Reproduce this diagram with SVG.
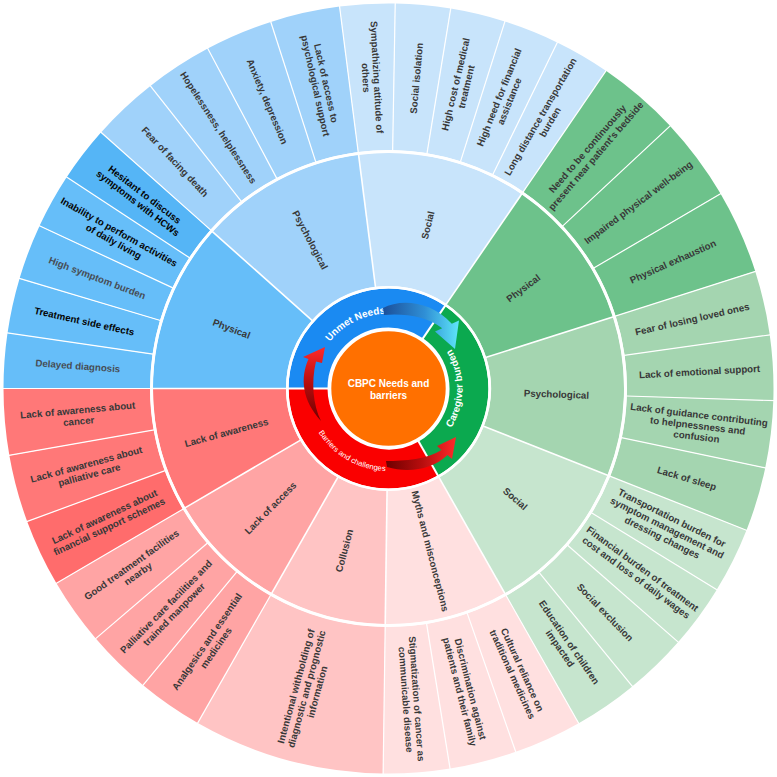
<svg xmlns="http://www.w3.org/2000/svg" width="777" height="777" viewBox="0 0 777 777">
<defs>
<style>
.lf{fill:none;stroke-width:146.5}
.md{fill:none;stroke-width:133}
.cr{fill:none;stroke-width:39}
.c1{stroke:#66BEF9}.c1d{stroke:#55B5F6}.c2{stroke:#A0D2FA}.c3{stroke:#C8E4FB}
.c4{stroke:#6DC28B}.c5{stroke:#A4D5B0}.c6{stroke:#C6E5CE}
.c7{stroke:#FFE0E0}.c8{stroke:#FFC4C4}.c9{stroke:#FFA4A4}.c10{stroke:#FF7878}.c10d{stroke:#FF6C6C}
text{font-family:"Liberation Sans",Arial,sans-serif;font-weight:bold;font-size:9.7px;fill:#383838;text-anchor:middle}
.dk{fill:#050505}
.gy{fill:#474d55}
.rt{fill:#fff;font-size:10px}
.sm{fill:#fff;font-size:7.6px;font-weight:normal}
.ct{fill:#fff;font-size:10px}
</style>
<linearGradient id="gBlue" x1="0" y1="0" x2="1" y2="0"><stop offset="0" stop-color="#1b4f9a"/><stop offset="0.55" stop-color="#2f8fd6"/><stop offset="1" stop-color="#5fe6f8"/></linearGradient>
<linearGradient id="gRedV" x1="0" y1="1" x2="0" y2="0"><stop offset="0" stop-color="#6e0000"/><stop offset="0.5" stop-color="#b50d0d"/><stop offset="1" stop-color="#ff2a2a"/></linearGradient>
<linearGradient id="gRedH" x1="0" y1="0" x2="1" y2="0"><stop offset="0" stop-color="#6e0000"/><stop offset="0.5" stop-color="#b50d0d"/><stop offset="1" stop-color="#ff2a2a"/></linearGradient>
<path id="pUnmet" d="M-71.33,-23.18 A75,75 0 0 1 23.18,-71.33"/>
<path id="pCare" d="M52.33,52.33 A74,74 0 0 0 52.33,-52.33"/>
<path id="pBarr" d="M-79.69,21.35 A82.5,82.5 0 0 0 21.35,79.69"/>
</defs>
<rect width="777" height="777" fill="#fff"/>
<g transform="translate(388.5,388.5)">
<g id="leaves">
<g id="n-delayed-diagnosis"><circle r="311.75" class="lf c1" pathLength="360" stroke-dasharray="8.3 360" transform="rotate(180)"/><text class="gy" transform="rotate(274.15) translate(0,-311.5) rotate(90)" y="3.4">Delayed diagnosis</text></g>
<g id="n-treatment-side-effects"><circle r="311.75" class="lf c1" pathLength="360" stroke-dasharray="8.3 360" transform="rotate(188.3)"/><text class="dk" transform="rotate(282.45) translate(0,-311.5) rotate(90)" y="3.4">Treatment side effects</text></g>
<g id="n-high-symptom-burden"><circle r="311.75" class="lf c1" pathLength="360" stroke-dasharray="8.4 360" transform="rotate(196.6)"/><text class="gy" transform="rotate(290.8) translate(0,-311.5) rotate(90)" y="3.4">High symptom burden</text></g>
<g id="n-inability"><circle r="311.75" class="lf c1" pathLength="360" stroke-dasharray="8.3 360" transform="rotate(205)"/><text class="dk" transform="rotate(299.15) translate(0,-311.5) rotate(90)"><tspan x="0" y="-2.1">Inability to perform activities</tspan><tspan x="0" y="8.9">of daily living</tspan></text></g>
<g id="n-hesitant"><circle r="311.75" class="lf c1d" pathLength="360" stroke-dasharray="8.4 360" transform="rotate(213.3)"/><text class="dk" transform="rotate(307.5) translate(0,-311.5) rotate(90)"><tspan x="0" y="-2.1">Hesitant to discuss</tspan><tspan x="0" y="8.9">symptoms with HCWs</tspan></text></g>
<g id="n-fear-death"><circle r="311.75" class="lf c2" pathLength="360" stroke-dasharray="10.1 360" transform="rotate(221.7)"/><text transform="rotate(316.75) translate(0,-311.5) rotate(90)" y="3.4">Fear of facing death</text></g>
<g id="n-hopelessness"><circle r="311.75" class="lf c2" pathLength="360" stroke-dasharray="10.2 360" transform="rotate(231.8)"/><text transform="rotate(326.9) translate(0,-311.5) rotate(90)" y="3.4">Hopelessness, helplessness</text></g>
<g id="n-anxiety"><circle r="311.75" class="lf c2" pathLength="360" stroke-dasharray="10.2 360" transform="rotate(242)"/><text transform="rotate(337.1) translate(0,-311.5) rotate(90)" y="3.4">Anxiety, depression</text></g>
<g id="n-lack-psych-support"><circle r="311.75" class="lf c2" pathLength="360" stroke-dasharray="10.5 360" transform="rotate(252.2)"/><text transform="rotate(347.45) translate(0,-311.5) rotate(90)"><tspan x="0" y="-2.1">Lack of access to</tspan><tspan x="0" y="8.9">psychological support</tspan></text></g>
<g id="n-sympathizing"><circle r="311.75" class="lf c3" pathLength="360" stroke-dasharray="8.3 360" transform="rotate(262.7)"/><text transform="rotate(356.85) translate(0,-311.5) rotate(90)"><tspan x="0" y="-2.1">Sympathizing attitude of</tspan><tspan x="0" y="8.9">others</tspan></text></g>
<g id="n-social-isolation"><circle r="311.75" class="lf c3" pathLength="360" stroke-dasharray="8.3 360" transform="rotate(-89)"/><text transform="rotate(5.15) translate(0,-311.5) rotate(-90)" y="3.4">Social isolation</text></g>
<g id="n-high-cost"><circle r="311.75" class="lf c3" pathLength="360" stroke-dasharray="8.3 360" transform="rotate(-80.7)"/><text transform="rotate(13.45) translate(0,-311.5) rotate(-90)"><tspan x="0" y="-2.1">High cost of medical</tspan><tspan x="0" y="8.9">treatment</tspan></text></g>
<g id="n-high-need"><circle r="311.75" class="lf c3" pathLength="360" stroke-dasharray="8.4 360" transform="rotate(-72.4)"/><text transform="rotate(21.8) translate(0,-311.5) rotate(-90)"><tspan x="0" y="-2.1">High need for financial</tspan><tspan x="0" y="8.9">assistance</tspan></text></g>
<g id="n-long-distance"><circle r="311.75" class="lf c3" pathLength="360" stroke-dasharray="8.4 360" transform="rotate(-64)"/><text transform="rotate(30.2) translate(0,-311.5) rotate(-90)"><tspan x="0" y="-2.1">Long distance transportation</tspan><tspan x="0" y="8.9">burden</tspan></text></g>
<g id="n-need-present"><circle r="311.75" class="lf c4" pathLength="360" stroke-dasharray="12.6 360" transform="rotate(-55.6)"/><text transform="rotate(40.7) translate(0,-311.5) rotate(-90)"><tspan x="0" y="-2.1">Need to be continuously</tspan><tspan x="0" y="8.9">present near patient's bedside</tspan></text></g>
<g id="n-impaired"><circle r="311.75" class="lf c4" pathLength="360" stroke-dasharray="12.6 360" transform="rotate(-43)"/><text transform="rotate(53.3) translate(0,-311.5) rotate(-90)" y="3.4">Impaired physical well-being</text></g>
<g id="n-exhaustion"><circle r="311.75" class="lf c4" pathLength="360" stroke-dasharray="12.7 360" transform="rotate(-30.4)"/><text transform="rotate(65.95) translate(0,-311.5) rotate(-90)" y="3.4">Physical exhaustion</text></g>
<g id="n-fear-losing"><circle r="311.75" class="lf c5" pathLength="360" stroke-dasharray="9.7 360" transform="rotate(-17.7)"/><text transform="rotate(77.15) translate(0,-311.5) rotate(-90)" y="3.4">Fear of losing loved ones</text></g>
<g id="n-emotional-support"><circle r="311.75" class="lf c5" pathLength="360" stroke-dasharray="9.8 360" transform="rotate(-8)"/><text transform="rotate(86.9) translate(0,-311.5) rotate(-90)" y="3.4">Lack of emotional support</text></g>
<g id="n-guidance"><circle r="311.75" class="lf c5" pathLength="360" stroke-dasharray="10.1 360" transform="rotate(1.8)"/><text transform="rotate(96.85) translate(0,-311.5) rotate(-90)"><tspan x="0" y="-7.6">Lack of guidance contributing</tspan><tspan x="0" y="3.4">to helpnessness and</tspan><tspan x="0" y="14.4">confusion</tspan></text></g>
<g id="n-sleep"><circle r="311.75" class="lf c5" pathLength="360" stroke-dasharray="9.7 360" transform="rotate(11.9)"/><text transform="rotate(106.75) translate(0,-311.5) rotate(-90)" y="3.4">Lack of sleep</text></g>
<g id="n-transportation"><circle r="311.75" class="lf c6" pathLength="360" stroke-dasharray="9.9 360" transform="rotate(21.6)"/><text transform="rotate(116.55) translate(0,-311.5) rotate(-90)"><tspan x="0" y="-7.6">Transportation burden for</tspan><tspan x="0" y="3.4">symptom management and</tspan><tspan x="0" y="14.4">dressing changes</tspan></text></g>
<g id="n-financial-burden"><circle r="311.75" class="lf c6" pathLength="360" stroke-dasharray="9.7 360" transform="rotate(31.5)"/><text transform="rotate(126.35) translate(0,-311.5) rotate(-90)"><tspan x="0" y="-2.1">Financial burden of treatment</tspan><tspan x="0" y="8.9">cost and loss of daily wages</tspan></text></g>
<g id="n-social-exclusion"><circle r="311.75" class="lf c6" pathLength="360" stroke-dasharray="9.5 360" transform="rotate(41.2)"/><text transform="rotate(135.95) translate(0,-311.5) rotate(-90)" y="3.4">Social exclusion</text></g>
<g id="n-education"><circle r="311.75" class="lf c6" pathLength="360" stroke-dasharray="9.7 360" transform="rotate(50.7)"/><text transform="rotate(145.55) translate(0,-311.5) rotate(-90)"><tspan x="0" y="-2.1">Education of children</tspan><tspan x="0" y="8.9">impacted</tspan></text></g>
<g id="n-cultural"><circle r="311.75" class="lf c7" pathLength="360" stroke-dasharray="10.3 360" transform="rotate(60.4)"/><text transform="rotate(155.55) translate(0,-311.5) rotate(-90)"><tspan x="0" y="-2.1">Cultural reliance on</tspan><tspan x="0" y="8.9">traditional medicines</tspan></text></g>
<g id="n-discrimination"><circle r="311.75" class="lf c7" pathLength="360" stroke-dasharray="10.1 360" transform="rotate(70.7)"/><text transform="rotate(165.75) translate(0,-311.5) rotate(-90)"><tspan x="0" y="-2.1">Discrimination against</tspan><tspan x="0" y="8.9">patients and their family</tspan></text></g>
<g id="n-stigmatization"><circle r="311.75" class="lf c7" pathLength="360" stroke-dasharray="10 360" transform="rotate(80.8)"/><text transform="rotate(175.8) translate(0,-311.5) rotate(-90)"><tspan x="0" y="-2.1">Stigmatization of cancer as</tspan><tspan x="0" y="8.9">communicable disease</tspan></text></g>
<g id="n-withholding"><circle r="311.75" class="lf c8" pathLength="360" stroke-dasharray="28.9 360" transform="rotate(90.8)"/><text transform="rotate(195.25) translate(0,-311.5) rotate(90)"><tspan x="0" y="-7.6">Intentional withholding of</tspan><tspan x="0" y="3.4">diagnostic and prognostic</tspan><tspan x="0" y="14.4">information</tspan></text></g>
<g id="n-analgesics"><circle r="311.75" class="lf c9" pathLength="360" stroke-dasharray="9.9 360" transform="rotate(119.7)"/><text transform="rotate(214.65) translate(0,-311.5) rotate(90)"><tspan x="0" y="-2.1">Analgesics and essential</tspan><tspan x="0" y="8.9">medicines</tspan></text></g>
<g id="n-palliative-facilities"><circle r="311.75" class="lf c9" pathLength="360" stroke-dasharray="9.9 360" transform="rotate(129.6)"/><text transform="rotate(224.55) translate(0,-311.5) rotate(90)"><tspan x="0" y="-2.1">Palliative care facilities and</tspan><tspan x="0" y="8.9">trained manpower</tspan></text></g>
<g id="n-good-treatment"><circle r="311.75" class="lf c9" pathLength="360" stroke-dasharray="10.1 360" transform="rotate(139.5)"/><text transform="rotate(234.55) translate(0,-311.5) rotate(90)"><tspan x="0" y="-2.1">Good treatment facilities</tspan><tspan x="0" y="8.9">nearby</tspan></text></g>
<g id="n-awareness-financial"><circle r="311.75" class="lf c10d" pathLength="360" stroke-dasharray="10.2 360" transform="rotate(149.6)"/><text transform="rotate(244.7) translate(0,-311.5) rotate(90)"><tspan x="0" y="-2.1">Lack of awareness about</tspan><tspan x="0" y="8.9">financial support schemes</tspan></text></g>
<g id="n-awareness-palliative"><circle r="311.75" class="lf c10" pathLength="360" stroke-dasharray="10.2 360" transform="rotate(159.8)"/><text transform="rotate(254.9) translate(0,-311.5) rotate(90)"><tspan x="0" y="-2.1">Lack of awareness about</tspan><tspan x="0" y="8.9">palliative care</tspan></text></g>
<g id="n-awareness-cancer"><circle r="311.75" class="lf c10" pathLength="360" stroke-dasharray="10 360" transform="rotate(170)"/><text transform="rotate(265) translate(0,-311.5) rotate(90)"><tspan x="0" y="-2.1">Lack of awareness about</tspan><tspan x="0" y="8.9">cancer</tspan></text></g>
</g>
<g id="categories">
<g id="n-unmet-physical"><circle r="169" class="md c1" pathLength="360" stroke-dasharray="41.7 360" transform="rotate(180)"/><text transform="rotate(290.85) translate(0,-168) rotate(90)" y="3.4">Physical</text></g>
<g id="n-unmet-psychological"><circle r="169" class="md c2" pathLength="360" stroke-dasharray="41 360" transform="rotate(221.7)"/><text transform="rotate(332.2) translate(0,-168) rotate(90)" y="3.4">Psychological</text></g>
<g id="n-unmet-social"><circle r="169" class="md c3" pathLength="360" stroke-dasharray="41.7 360" transform="rotate(262.7)"/><text transform="rotate(13.55) translate(0,-168) rotate(-90)" y="3.4">Social</text></g>
<g id="n-care-physical"><circle r="169" class="md c4" pathLength="360" stroke-dasharray="37.9 360" transform="rotate(-55.6)"/><text transform="rotate(53.35) translate(0,-168) rotate(-90)" y="3.4">Physical</text></g>
<g id="n-care-psychological"><circle r="169" class="md c5" pathLength="360" stroke-dasharray="39.3 360" transform="rotate(-17.7)"/><text transform="rotate(91.95) translate(0,-168) rotate(-90)" y="3.4">Psychological</text></g>
<g id="n-care-social"><circle r="169" class="md c6" pathLength="360" stroke-dasharray="38.8 360" transform="rotate(21.6)"/><text transform="rotate(131) translate(0,-168) rotate(-90)" y="3.4">Social</text></g>
<g id="n-myths"><circle r="169" class="md c7" pathLength="360" stroke-dasharray="30.4 360" transform="rotate(60.4)"/><text transform="rotate(165.6) translate(0,-168) rotate(-90)" y="3.4">Myths and misconceptions</text></g>
<g id="n-collusion"><circle r="169" class="md c8" pathLength="360" stroke-dasharray="28.9 360" transform="rotate(90.8)"/><text transform="rotate(195.25) translate(0,-168) rotate(90)" y="3.4">Collusion</text></g>
<g id="n-lack-access"><circle r="169" class="md c9" pathLength="360" stroke-dasharray="29.9 360" transform="rotate(119.7)"/><text transform="rotate(224.65) translate(0,-168) rotate(90)" y="3.4">Lack of access</text></g>
<g id="n-lack-awareness"><circle r="169" class="md c10" pathLength="360" stroke-dasharray="30.4 360" transform="rotate(149.6)"/><text transform="rotate(254.8) translate(0,-168) rotate(90)" y="3.4">Lack of awareness</text></g>
</g>
<g id="core">
<g id="n-unmet-needs"><circle r="80.5" class="cr" stroke="#1A8AF2" pathLength="360" stroke-dasharray="124.4 360" transform="rotate(180)"/><text class="rt"><textPath href="#pUnmet" startOffset="50%">Unmet Needs</textPath></text></g>
<g id="n-caregiver-burden"><circle r="80.5" class="cr" stroke="#0BA94F" pathLength="360" stroke-dasharray="116 360" transform="rotate(-55.6)"/><text class="rt"><textPath href="#pCare" startOffset="50%">Caregiver burden</textPath></text></g>
<g id="n-barriers"><circle r="80.5" class="cr" stroke="#FA0000" pathLength="360" stroke-dasharray="119.6 360" transform="rotate(60.4)"/><text class="sm"><textPath href="#pBarr" startOffset="50%">Barriers and challenges</textPath></text></g>
</g>
<g id="borders" stroke="#fff" fill="none">
<g stroke-width="1.2">
<line y1="-238" y2="-387" transform="rotate(270)"/><line y1="-238" y2="-387" transform="rotate(278.3)"/><line y1="-238" y2="-387" transform="rotate(286.6)"/><line y1="-238" y2="-387" transform="rotate(295)"/><line y1="-238" y2="-387" transform="rotate(303.3)"/><line y1="-238" y2="-387" transform="rotate(311.7)"/><line y1="-238" y2="-387" transform="rotate(321.8)"/><line y1="-238" y2="-387" transform="rotate(332)"/><line y1="-238" y2="-387" transform="rotate(342.2)"/><line y1="-238" y2="-387" transform="rotate(352.7)"/><line y1="-238" y2="-387" transform="rotate(1)"/><line y1="-238" y2="-387" transform="rotate(9.3)"/><line y1="-238" y2="-387" transform="rotate(17.6)"/><line y1="-238" y2="-387" transform="rotate(26)"/><line y1="-238" y2="-387" transform="rotate(34.4)"/><line y1="-238" y2="-387" transform="rotate(47)"/><line y1="-238" y2="-387" transform="rotate(59.6)"/><line y1="-238" y2="-387" transform="rotate(72.3)"/><line y1="-238" y2="-387" transform="rotate(82)"/><line y1="-238" y2="-387" transform="rotate(91.8)"/><line y1="-238" y2="-387" transform="rotate(101.9)"/><line y1="-238" y2="-387" transform="rotate(111.6)"/><line y1="-238" y2="-387" transform="rotate(121.5)"/><line y1="-238" y2="-387" transform="rotate(131.2)"/><line y1="-238" y2="-387" transform="rotate(140.7)"/><line y1="-238" y2="-387" transform="rotate(150.4)"/><line y1="-238" y2="-387" transform="rotate(160.7)"/><line y1="-238" y2="-387" transform="rotate(170.8)"/><line y1="-238" y2="-387" transform="rotate(180.8)"/><line y1="-238" y2="-387" transform="rotate(209.7)"/><line y1="-238" y2="-387" transform="rotate(219.6)"/><line y1="-238" y2="-387" transform="rotate(229.5)"/><line y1="-238" y2="-387" transform="rotate(239.6)"/><line y1="-238" y2="-387" transform="rotate(249.8)"/><line y1="-238" y2="-387" transform="rotate(260)"/>
</g>
<g stroke-width="1.6">
<line y1="-101" y2="-237" transform="rotate(270)"/><line y1="-101" y2="-237" transform="rotate(311.7)"/><line y1="-101" y2="-237" transform="rotate(352.7)"/><line y1="-101" y2="-237" transform="rotate(34.4)"/><line y1="-101" y2="-237" transform="rotate(72.3)"/><line y1="-101" y2="-237" transform="rotate(111.6)"/><line y1="-101" y2="-237" transform="rotate(150.4)"/><line y1="-101" y2="-237" transform="rotate(180.8)"/><line y1="-101" y2="-237" transform="rotate(209.7)"/><line y1="-101" y2="-237" transform="rotate(239.6)"/>
</g>
<g stroke-width="2">
<line y1="-59" y2="-102" transform="rotate(270)"/><line y1="-59" y2="-102" transform="rotate(34.4)"/><line y1="-59" y2="-102" transform="rotate(150.4)"/>
</g>
<circle r="237" stroke-width="2.6"/>
<circle r="101.2" stroke-width="2.6"/>
</g>
<g id="n-center"><circle r="58.5" fill="#FF7000" stroke="#fff" stroke-width="2.6"/><text class="ct"><tspan x="0" y="-1.5">CBPC Needs and</tspan><tspan x="0" y="10.5">barriers</tspan></text></g>
</g>
<g id="connectors">
<path id="arrow-unmet-to-caregiver" fill="url(#gBlue)" d="M383,308 C400,299 430,300 451.8,323.8 L459,320.5 L455,349 L435,331.5 L442.2,328.2 C428,317 405,313 384,315 Z"/>
<path id="arrow-barriers-to-unmet" fill="url(#gRedV)" d="M325,347 L303,357 L308.5,359 C300,378 302,400 321,421 C313,405 311,382 316,361.5 L322,363 Z"/>
<path id="arrow-barriers-to-caregiver" fill="url(#gRedH)" d="M456,437 L437,446 L441.5,450 C428,459 405,461 386,461 L387,467 C408,473 432,470 447.5,455 L452,459 Z"/>
</g>
</svg>
